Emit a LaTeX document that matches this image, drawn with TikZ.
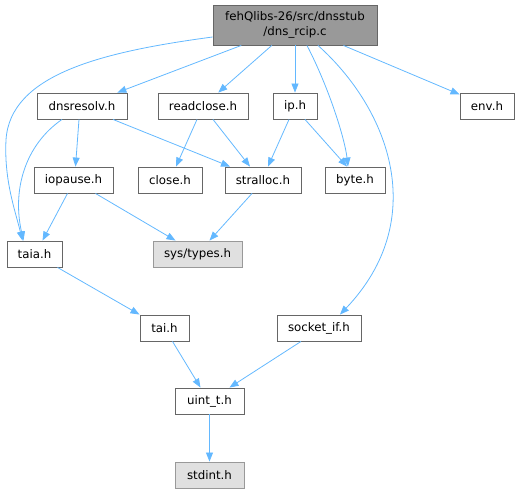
\documentclass[tikz,border=0pt]{standalone}
\usepackage{fontspec}
\setmainfont{DejaVu Sans}
\usetikzlibrary{arrows.meta,calc}
\definecolor{edgeblue}{HTML}{63B8FF}
\definecolor{boxgray}{HTML}{666666}
\definecolor{topfill}{HTML}{999999}
\definecolor{sysfill}{HTML}{E0E0E0}
\definecolor{sysline}{HTML}{999999}
\begin{document}
\begin{tikzpicture}[x=1pt,y=-1pt,
  file/.style={draw=boxgray,fill=white,line width=0.9pt,minimum height=26pt,inner sep=0pt,font=\fontsize{11.8}{15}\selectfont,text=black},
  sysfile/.style={file,draw=sysline,fill=sysfill},
  dep/.style={draw=edgeblue,line width=0.8pt,-{Triangle[length=9pt,width=7pt]}}]
\useasboundingbox (0,0) rectangle (520,493);
\node[file,fill=topfill,minimum width=164pt,minimum height=40pt,align=center] (top) at (295,25) {fehQlibs-26/src/dnsstub\\/dns\_rcip.c};
\node[file,minimum width=90pt] (dnsresolv) at (82,106) {dnsresolv.h};
\node[file,minimum width=90pt] (readclose) at (203,106) {readclose.h};
\node[file,minimum width=44pt] (ip) at (295,106) {ip.h};
\node[file,minimum width=54pt] (env) at (487,106) {env.h};
\node[file,minimum width=79pt] (iopause) at (73.5,180) {iopause.h};
\node[file,minimum width=64pt] (close) at (170,180) {close.h};
\node[file,minimum width=76pt] (stralloc) at (263,180) {stralloc.h};
\node[file,minimum width=60pt] (byte) at (355,180) {byte.h};
\node[file,minimum width=55pt] (taia) at (34.5,254) {taia.h};
\node[sysfile,minimum width=89pt] (systypes) at (197.5,254) {sys/types.h};
\node[file,minimum width=49pt] (tai) at (164.5,328) {tai.h};
\node[file,minimum width=84pt] (socketif) at (319,328) {socket\_if.h};
\node[file,minimum width=69pt] (uintt) at (209.5,401) {uint\_t.h};
\node[sysfile,minimum width=69pt] (stdint) at (209.5,475) {stdint.h};
% edges
\draw[dep] (top) -- (dnsresolv);
\draw[dep] (top) -- (readclose);
\draw[dep] (top.south -| ip) -- (ip);
\draw[dep] (top) -- (env);
\draw[dep] ($(top.south)+(12,0)$) .. controls (330,90) and (345,140) .. ($(byte.north)+(-7,0)$);
\draw[dep] ($(top.south)+(23,0)$) .. controls (390,110) and (430,220) .. ($(socketif.north)+(21,0)$);
\draw[dep] ($(top.west)+(0,12)$) .. controls (100,52) and (10,75) .. (6,140) .. controls (4,180) and (15,210) .. ($(taia.north)+(-12,0)$);
\draw[dep] ($(dnsresolv.south)+(-20,0)$) .. controls (25,145) and (12,190) .. ($(taia.north)+(-11,0)$);
\draw[dep] ($(dnsresolv.south)+(-3,0)$) -- ($(iopause.north)+(2,0)$);
\draw[dep] ($(dnsresolv.south)+(31,0)$) -- ($(stralloc.north)+(-33,0)$);
\draw[dep] ($(readclose.south)+(-6,0)$) -- ($(close.north)+(6,0)$);
\draw[dep] ($(readclose.south)+(10,0)$) -- ($(stralloc.north)+(-13,0)$);
\draw[dep] ($(ip.south)+(-6,0)$) -- ($(stralloc.north)+(5,0)$);
\draw[dep] ($(ip.south)+(10,0)$) -- ($(byte.north)+(-8,0)$);
\draw[dep] ($(iopause.south)+(-6,0)$) -- ($(taia.north)+(8,0)$);
\draw[dep] ($(iopause.south)+(22,0)$) -- ($(systypes.north)+(-22,0)$);
\draw[dep] ($(stralloc.south)+(-11,0)$) -- ($(systypes.north)+(12,0)$);
\draw[dep] ($(taia.south)+(23,0)$) -- ($(tai.north)+(-25,0)$);
\draw[dep] ($(tai.south)+(8,0)$) -- ($(uintt.north)+(-9,0)$);
\draw[dep] ($(socketif.south)+(-18,0)$) -- ($(uintt.north)+(20,0)$);
\draw[dep] (uintt) -- (stdint);
\end{tikzpicture}
\end{document}
